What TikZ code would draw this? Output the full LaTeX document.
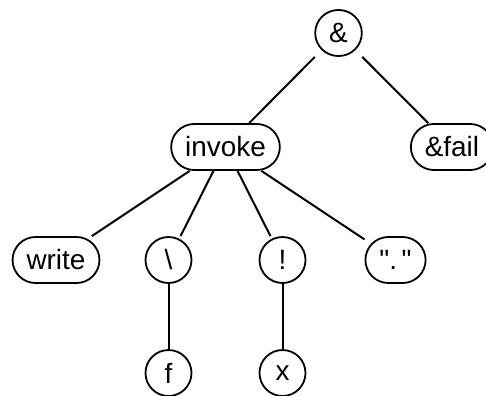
\documentclass[tikz,border=0pt]{standalone}
\usepackage{fontspec}
\setmainfont{Liberation Sans}[Ligatures=TeXOff]
\begin{document}
\begin{tikzpicture}[x = 1bp, y = -1bp, line width = 2bp,
  tnode/.style = {draw, line width = 1.8bp, rounded corners = 23bp, minimum height = 46bp, minimum width = 46bp,
    inner xsep = 14bp, inner ysep = 0pt, font = \fontsize{28}{34}\selectfont}]
\useasboundingbox (0,0) rectangle (486,395);
\node[tnode] (amp) at (338.5,33) {\&};
\node[tnode] (invoke) at (225.5,147) {invoke};
\node[tnode] (fail) at (452,147) {\&fail};
\node[tnode] (write) at (56,260) {write};
\node[tnode] (lam) at (168.5,260) {\textbackslash};
\node[tnode] (bang) at (282.5,260) {!};
\node[tnode] (dot) at (395.5,260) {".\,"};
\node[tnode] (f) at (168.5,373) {f};
\node[tnode] (x) at (282.5,373) {x};
\draw (amp) -- (invoke);
\draw (amp) -- (fail);
\foreach \c in {write, lam, bang, dot} \draw (invoke) -- (\c);
\draw (lam) -- (f);
\draw (bang) -- (x);
\end{tikzpicture}
\end{document}
